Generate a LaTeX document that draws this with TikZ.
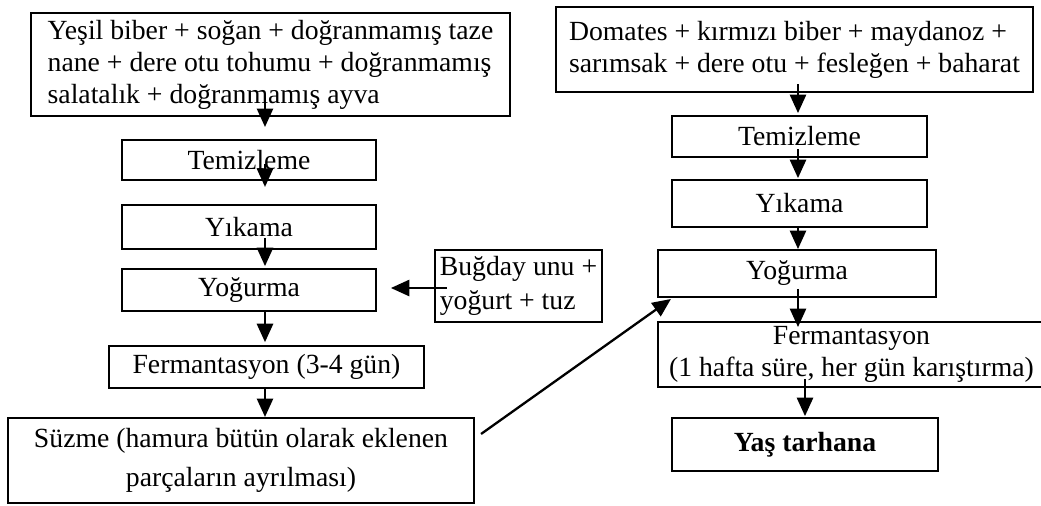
\documentclass[tikz,border=0pt]{standalone}
\usepackage{fontspec}
\setmainfont{Liberation Serif}
\usetikzlibrary{arrows.meta,calc}

\begin{document}
\begin{tikzpicture}[
    x=0.433pt, y=-0.433pt,
    box/.style={draw, line width=0.9pt, inner sep=1pt, font=\fontsize{12}{13.8}\selectfont},
    arr/.style={line width=1pt, -{Triangle[length=8pt,width=7pt]}}
]
\useasboundingbox (0,0) rectangle (1041,505);
\coordinate (colL) at (265,0);
\coordinate (colR) at (798,0);

% Left line
\node[box, align=left, minimum width=207.4pt, minimum height=44.6pt] (ing1) at (270.5,64.5)
    {Yeşil biber + soğan + doğranmamış taze\\nane + dere otu tohumu + doğranmamış\\salatalık + doğranmamış ayva};
\node[box, minimum width=110pt, minimum height=17.3pt] (tem1) at (249,160) {Temizleme};
\node[box, minimum width=110pt, minimum height=19pt] (yik1) at (249,227) {Yıkama};
\node[box, minimum width=110pt, minimum height=18.2pt] (yog1) at (249,290) {Yoğurma};
\node[box, minimum width=136.4pt, minimum height=18.2pt] (fer1) at (266.5,367) {Fermantasyon (3-4 gün)};
\node[box, align=center, minimum width=201.8pt, minimum height=36.8pt] (suz) at (241,460.5)
    {Süzme (hamura bütün olarak eklenen\\[3pt]parçaların ayrılması)};
\node[box, align=left, minimum width=72.3pt, minimum height=31.2pt] (bug) at (518.5,286)
    {Buğday unu +\\[1pt]yoğurt + tuz};

% Right line
\node[box, align=left, minimum width=206.5pt, minimum height=36.8pt] (ing2) at (794.5,49.5)
    {Domates + kırmızı biber + maydanoz +\\sarımsak + dere otu + fesleğen + baharat};
\node[box, minimum width=110.4pt, minimum height=17.8pt] (tem2) at (799.5,136.5) {Temizleme};
\node[box, minimum width=110.4pt, minimum height=20.3pt] (yik2) at (799.5,203.5) {Yıkama};
\node[box, minimum width=120.4pt, minimum height=20.3pt] (yog2) at (797,273.5) {Yoğurma};
\node[box, align=center, minimum width=167.6pt, minimum height=28.1pt] (fer2) at (851.5,354.5)
    {Fermantasyon\\(1 hafta süre, her gün karıştırma)};
\node[box, minimum width=115.2pt, minimum height=22.9pt] (yas) at (805,444.5) {\textbf{Yaş tarhana}};

% Arrows, left
\draw[arr, shorten >=5.2pt] ($(ing1.south -| colL)+(0,-19)$) -- (tem1.north -| colL);
\draw[arr, shorten >=7.4pt] ($(tem1.south -| colL)+(0,-17)$) -- (yik1.north -| colL);
\draw[arr, shorten >=0.8pt] ($(yik1.south -| colL)+(0,-12)$) -- (yog1.north -| colL);
\draw[arr, shorten >=1.2pt] (yog1.south -| colL) -- (fer1.north -| colL);
\draw[arr] (fer1.south -| colL) -- (suz.north -| colL);
\draw[arr, shorten >=6pt] ($(bug.west)+(13,2)$) -- ($(bug.west -| yog1.east)+(0,2)$);

% Arrows, right
\draw[arr, shorten >=0.8pt] ($(ing2.south -| colR)+(0,-9)$) -- (tem2.north -| colR);
\draw[arr, shorten >=0.4pt] ($(tem2.south -| colR)+(0,-9)$) -- (yik2.north -| colR);
\draw[arr] (yik2.south -| colR) -- (yog2.north -| colR);
\draw[arr, shorten >=-2.6pt] ($(yog2.south -| colR)+(0,-9)$) -- (fer2.north -| colR);
\draw[arr, shorten >=0.4pt] ($(fer2.south -| yas.north)+(0,-9)$) -- (yas.north);
\draw[arr] ($(suz.north east)+(6,17)$) -- ($(yog2.south west)+(14,1)$);
\end{tikzpicture}
\end{document}
